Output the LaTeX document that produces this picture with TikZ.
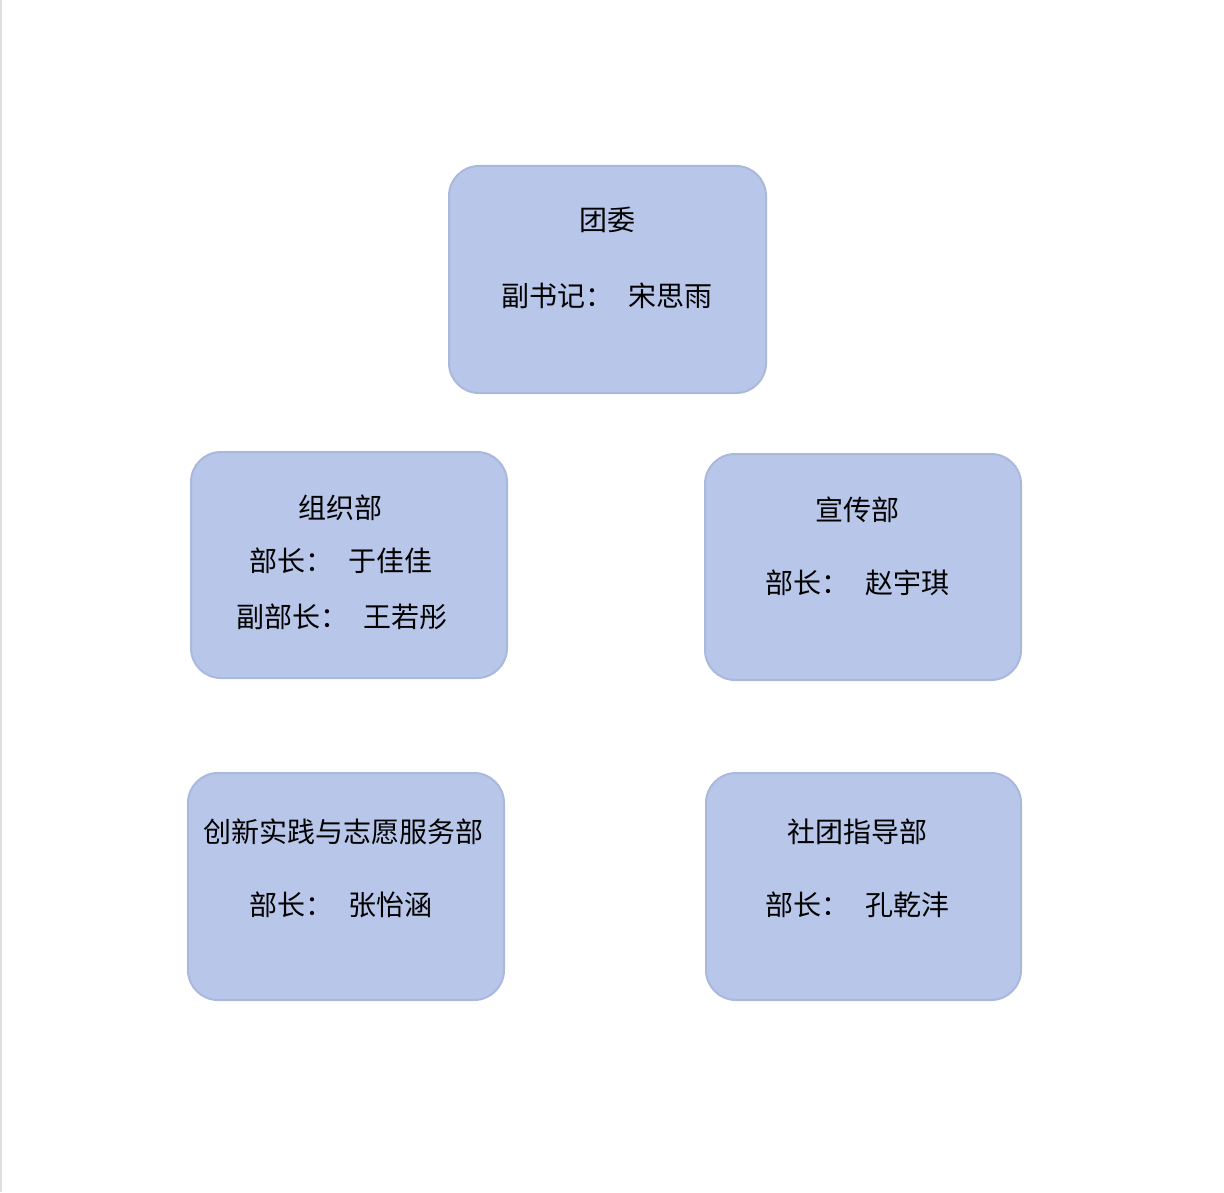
\documentclass[tikz,border=0pt]{standalone}
\usepackage{fontspec}
\setmainfont{Noto Sans CJK SC}
\begin{document}
\begin{tikzpicture}[x=0.5pt,y=-0.5pt,
  box/.style={fill=boxfill,draw=boxline,line width=1pt,rounded corners=15pt},
  txt/.style={font=\fontsize{14}{16}\selectfont,inner sep=0pt,anchor=center}]
\definecolor{boxfill}{HTML}{B8C7E9}
\definecolor{boxline}{HTML}{A9B8DD}
\useasboundingbox[fill=white] (0,0) rectangle (1224,1192);
\draw[black!12,line width=1pt] (1,0) -- (1,1192);
\draw[box] (449,166) rectangle (766,393);
\node[txt] (a1) at (607,220) {团委};
\node[txt] (a2) at (607,296) {副书记：\hspace{8pt}宋思雨};
\draw[box] (191,452) rectangle (507,678);
\node[txt] (b1) at (340,508) {组织部};
\node[txt] (b2) at (341,561) {部长：\hspace{8pt}于佳佳};
\node[txt] (b3) at (342,617) {副部长：\hspace{8pt}王若彤};
\draw[box] (705,454) rectangle (1021,680);
\node[txt] (c1) at (857,510) {宣传部};
\node[txt] (c2) at (857,583) {部长：\hspace{8pt}赵宇琪};
\draw[box] (188,773) rectangle (504,1000);
\node[txt] (d1) at (343,832) {创新实践与志愿服务部};
\node[txt] (d2) at (341,905) {部长：\hspace{8pt}张怡涵};
\draw[box] (706,773) rectangle (1021,1000);
\node[txt] (e1) at (857,832) {社团指导部};
\node[txt] (e2) at (857,905) {部长：\hspace{8pt}孔乾沣};
\end{tikzpicture}
\end{document}
